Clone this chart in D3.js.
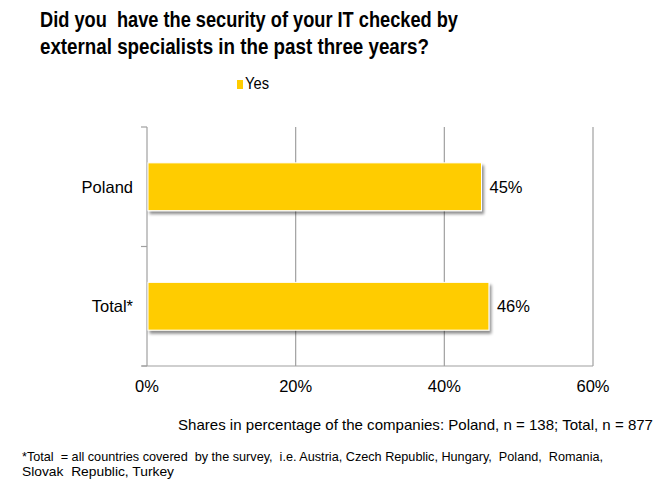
<!DOCTYPE html>
<html><head><meta charset="utf-8">
<script src="https://cdn.jsdelivr.net/npm/d3@7"></script>
<style>body{margin:0;background:#fff;} text{font-family:"Liberation Sans",Arial,sans-serif;}</style>
</head><body>
<svg id="c" width="659" height="483"></svg>
<script>
const categories = ["Poland", "Total*"];
const values = [45, 46];
const seriesName = "Yes";
const xTicks = [0, 20, 40, 60];
const titleLines = ["Did you  have the security of your IT checked by", "external specialists in the past three years?"];
const note1 = "Shares in percentage of the companies: Poland, n = 138; Total, n = 877";
const note2 = ["*Total  = all countries covered  by the survey,  i.e. Austria, Czech Republic, Hungary,  Poland,  Romania,", "Slovak  Republic, Turkey"];

const svg = d3.select("#c");
const m = {l:147, r:593, t:127, b:366};
const x = d3.scaleLinear().domain([0,60]).range([m.l, m.r]);
const y = d3.scaleBand().domain(categories).range([m.t, m.b]).paddingInner(0.6).paddingOuter(0.3);
const gray = "#a0a0a0";

const defs = svg.append("defs");
const f = defs.append("filter").attr("id","sh").attr("x","-5%").attr("y","-10%").attr("width","115%").attr("height","140%");
f.append("feGaussianBlur").attr("in","SourceAlpha").attr("stdDeviation",1.5).attr("result","b");
f.append("feOffset").attr("in","b").attr("dx",2).attr("dy",3).attr("result","o");
f.append("feComponentTransfer").attr("in","o").attr("result","o2").append("feFuncA").attr("type","linear").attr("slope",0.45);
const mg = f.append("feMerge"); mg.append("feMergeNode").attr("in","o2"); mg.append("feMergeNode").attr("in","SourceGraphic");

// title
svg.append("g").selectAll("text").data(titleLines).join("text")
  .attr("x",40).attr("y",(d,i)=>27+i*27).attr("font-size",22.5).attr("font-weight","bold")
  .attr("fill","#000").attr("textLength",(d,i)=>i==0?418:389).attr("lengthAdjust","spacingAndGlyphs")
  .attr("xml:space","preserve").text(d=>d);

// legend
svg.append("rect").attr("x",237).attr("y",80).attr("width",6).attr("height",9).attr("fill","#FFCC00");
svg.append("text").attr("x",245).attr("y",89).attr("font-size",16).attr("textLength",24).attr("lengthAdjust","spacingAndGlyphs").text(seriesName);

// gridlines
svg.append("g").selectAll("line").data(xTicks.filter(d=>d>0)).join("line")
  .attr("x1",d=>x(d)).attr("x2",d=>x(d)).attr("y1",m.t).attr("y2",m.b)
  .attr("stroke",gray).attr("stroke-width",1.2);

// left axis
const yl = d3.scaleLinear().domain([0,categories.length]).range([m.t,m.b]);
svg.append("line").attr("x1",m.l).attr("x2",m.l).attr("y1",m.t).attr("y2",m.b).attr("stroke",gray).attr("stroke-width",1.2);
svg.append("g").selectAll("line").data(d3.range(categories.length+1)).join("line")
  .attr("x1",m.l-6).attr("x2",m.l).attr("y1",d=>yl(d)).attr("y2",d=>yl(d)).attr("stroke",gray).attr("stroke-width",1.2);
// bottom axis
svg.append("line").attr("x1",m.l-5).attr("x2",m.r).attr("y1",m.b).attr("y2",m.b).attr("stroke",gray).attr("stroke-width",1.2);

// bars
svg.append("g").selectAll("rect").data(values).join("rect")
  .attr("x",x(0)+1).attr("y",(d,i)=>y(categories[i])).attr("width",d=>x(d)-x(0)-1).attr("height",y.bandwidth())
  .attr("fill","#FFCC00").attr("stroke","#fff").attr("stroke-width",1).attr("filter","url(#sh)");

// value labels
svg.append("g").selectAll("text").data(values).join("text")
  .attr("x",d=>x(d)+8).attr("y",(d,i)=>y(categories[i])+y.bandwidth()/2+6).attr("font-size",16.5).text(d=>d+"%");

// category labels
svg.append("g").selectAll("text").data(categories).join("text")
  .attr("x",133).attr("y",d=>y(d)+y.bandwidth()/2+6).attr("text-anchor","end").attr("font-size",16.5).text(d=>d);

// x tick labels
svg.append("g").selectAll("text").data(xTicks).join("text")
  .attr("x",d=>x(d)).attr("y",392).attr("text-anchor","middle").attr("font-size",16.5).text(d=>d+"%");

svg.append("text").attr("x",178).attr("y",430).attr("font-size",15)
  .attr("textLength",475).attr("lengthAdjust","spacingAndGlyphs").text(note1);
svg.append("g").selectAll("text").data(note2).join("text")
  .attr("x",22).attr("y",(d,i)=>461+i*15).attr("font-size",13)
  .attr("textLength",(d,i)=>i==0?581:152).attr("lengthAdjust","spacingAndGlyphs")
  .attr("xml:space","preserve").text(d=>d);
</script>
</body></html>
